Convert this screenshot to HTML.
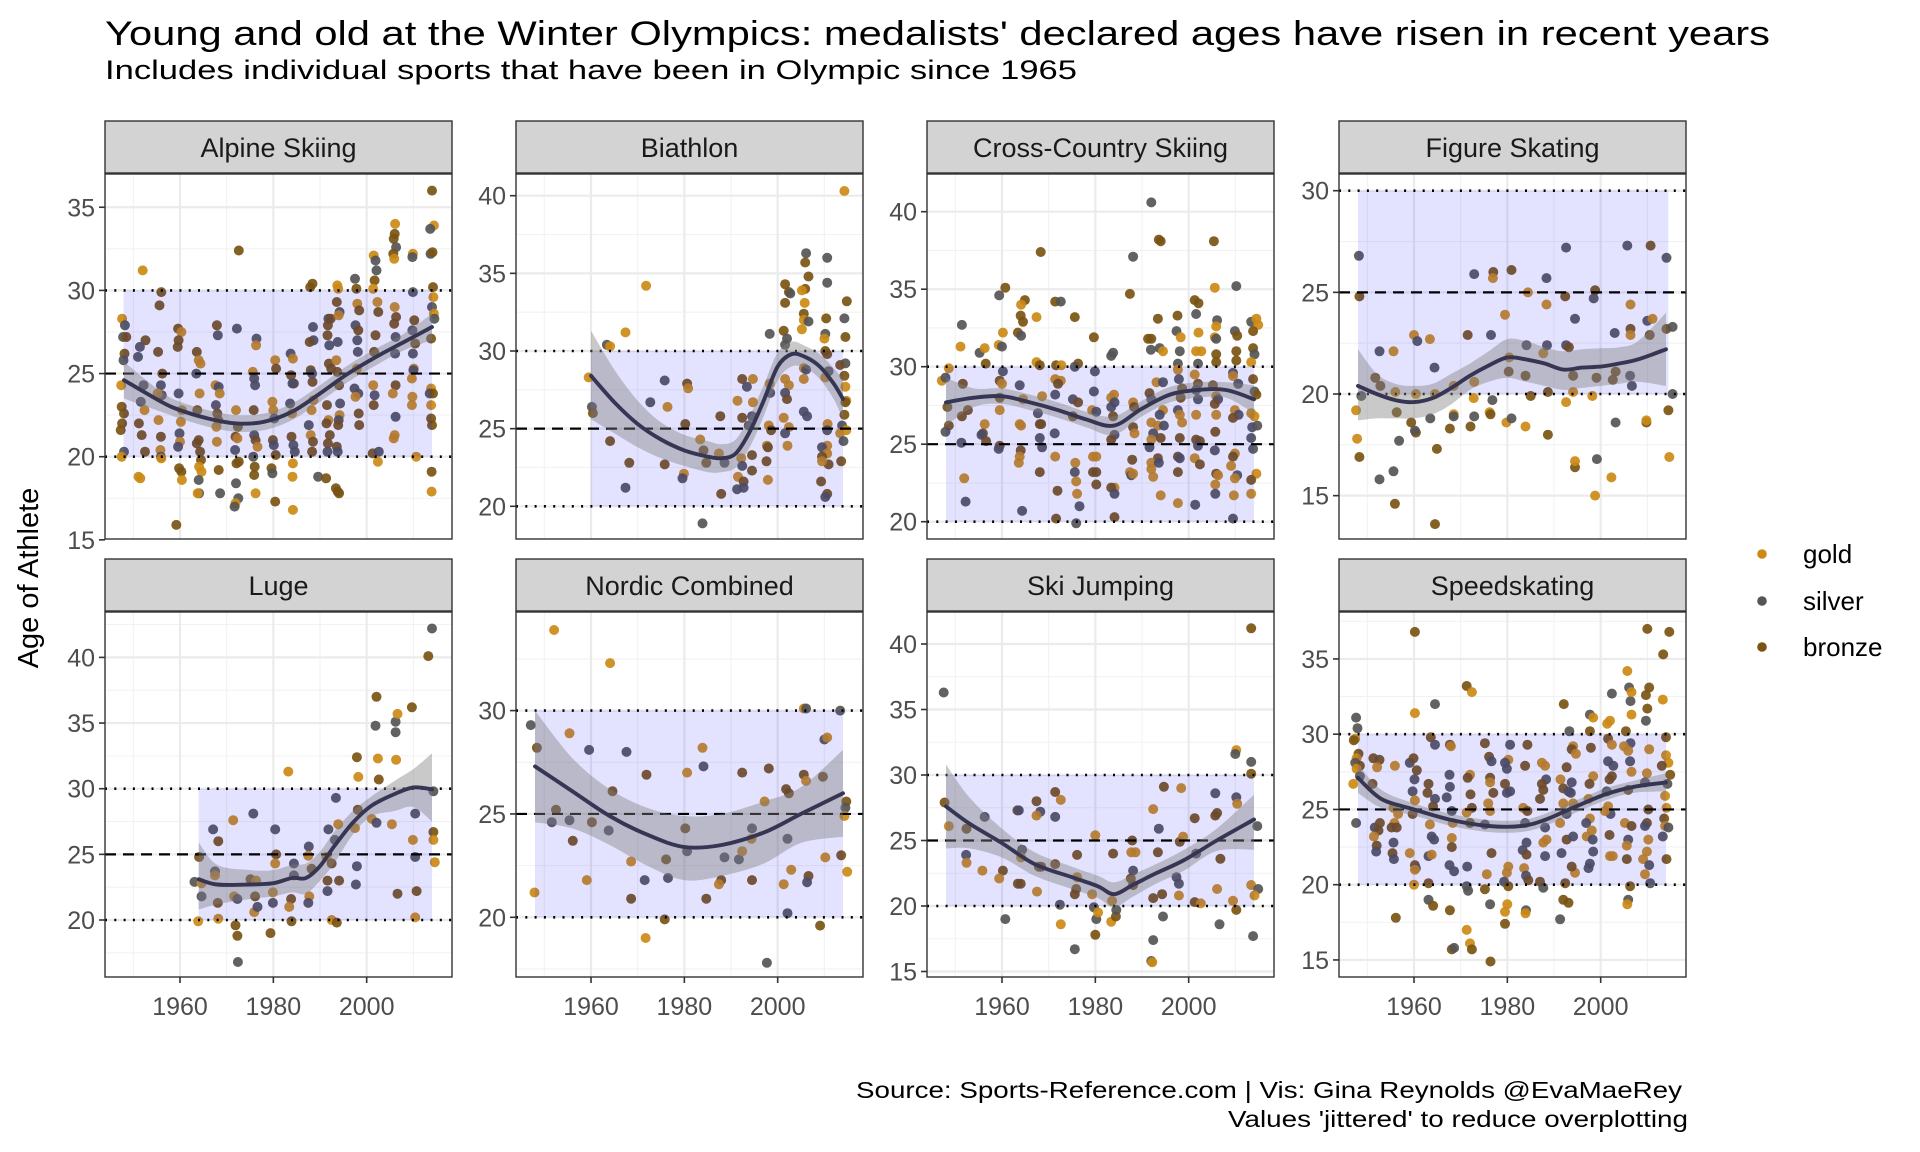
<!DOCTYPE html>
<html><head><meta charset="utf-8"><title>Winter Olympics medalist ages</title>
<style>html,body{margin:0;padding:0;background:#fff}svg{display:block;font-family:"Liberation Sans",Arial,sans-serif}</style>
</head><body>
<svg id="chart" width="1920" height="1152" viewBox="0 0 1920 1152" xmlns="http://www.w3.org/2000/svg">
<rect x="0" y="0" width="1920" height="1152" fill="#fff"/>
<text x="105" y="45" font-size="34" fill="#000" textLength="1665" lengthAdjust="spacingAndGlyphs">Young and old at the Winter Olympics: medalists' declared ages have risen in recent years</text>
<text x="105" y="79" font-size="27" fill="#000" textLength="972" lengthAdjust="spacingAndGlyphs">Includes individual sports that have been in Olympic since 1965</text>
<text transform="translate(38,578) rotate(-90)" text-anchor="middle" font-size="29" fill="#000">Age of Athlete</text>
<g id="panels"></g>
<g id="legend">
<circle cx="1762" cy="554" r="4.8" fill="#CB8A16"/>
<text x="1803" y="563" font-size="26" fill="#000">gold</text>
<circle cx="1762" cy="601" r="4.8" fill="#555555"/>
<text x="1803" y="610" font-size="26" fill="#000">silver</text>
<circle cx="1762" cy="647" r="4.8" fill="#7A5412"/>
<text x="1803" y="656" font-size="26" fill="#000">bronze</text>
</g>
<text x="1682" y="1098" font-size="23" text-anchor="end" fill="#000" textLength="826" lengthAdjust="spacingAndGlyphs">Source: Sports-Reference.com | Vis: Gina Reynolds @EvaMaeRey</text>
<text x="1688" y="1127" font-size="23" text-anchor="end" fill="#000" textLength="460" lengthAdjust="spacingAndGlyphs">Values 'jittered' to reduce overplotting</text>
</svg>
<script>
// ---------- DATA ----------
const alpineYears=[1947.6,1948.2,1947.8,1948.5,1948.1,1947.9,1947.4,1947.5,1948.0,1947.6,1947.3,1948.0,1947.5,
1952.0,1952.6,1951.4,1951.0,1952.2,1951.6,1952.4,1951.2,1951.8,1952.5,1951.1,1951.5,
1956.0,1955.6,1955.3,1956.2,1955.9,1956.1,1955.2,1955.4,1955.9,1955.8,1955.9,1956.0,
1959.6,1960.3,1959.7,1959.5,1959.7,1960.4,1960.2,1959.9,1960.0,1959.6,1959.8,1960.3,1960.4,1959.2,
1963.6,1964.0,1964.4,1963.5,1964.2,1963.7,1964.0,1963.6,1964.3,1964.5,1964.1,1964.6,1964.0,1964.1,1963.8,
1967.9,1968.1,1967.6,1968.3,1968.5,1967.7,1968.0,1968.2,1967.8,1967.9,1968.3,1968.6,
1972.6,1972.2,1972.0,1972.4,1971.9,1972.3,1971.8,1972.1,1972.6,1972.0,1972.5,1971.9,1971.7,
1976.4,1976.3,1975.6,1975.9,1976.1,1975.8,1975.9,1976.2,1976.6,1975.7,1976.0,1975.9,1976.2,
1980.4,1980.6,1979.8,1980.0,1980.2,1979.9,1980.1,1980.5,1979.6,1979.8,1980.4,
1983.7,1984.2,1983.8,1984.4,1984.1,1983.6,1984.0,1983.9,1984.3,1984.6,1984.2,1984.1,1984.2,
1987.9,1988.4,1988.5,1988.6,1987.8,1988.0,1988.3,1988.4,1988.6,1988.2,1987.6,1988.0,1988.5,1988.3,1989.6,
1991.8,1992.3,1991.7,1991.6,1992.0,1991.9,1992.4,1991.5,1991.8,1991.4,1992.1,1991.7,1991.6,1991.3,
1993.7,1993.9,1993.6,1994.2,1994.0,1993.8,1993.5,1993.7,1994.1,1994.3,1994.2,1994.0,1993.9,1993.6,1993.8,1993.4,1994.1,1993.8,
1997.5,1997.8,1998.0,1998.4,1997.6,1998.2,1998.0,1998.1,1997.9,1997.4,1998.2,1997.6,1998.3,1998.4,
2001.5,2001.9,2002.1,2001.7,2001.4,2002.3,2002.5,2001.9,2001.6,2001.4,2001.7,2001.5,2001.3,2002.6,2002.4,
2006.1,2006.0,2005.8,2006.3,2005.7,2005.9,2006.0,2006.3,2005.9,2006.2,2006.1,2006.2,2005.6,2006.2,2006.0,2005.8,
2009.9,2009.8,2009.9,2010.2,2009.8,2010.4,2009.9,2010.1,2010.0,2009.7,2009.8,2009.7,2010.6,
2014.0,2014.4,2013.6,2013.7,2014.1,2014.2,2014.3,2014.0,2014.4,2014.5,2013.8,2013.8,2013.5,2014.2,2013.8,2013.8,2014.0,2013.9,2013.9];
const alpineAges=[28.3,27.9,27.2,27.2,26.2,25.8,24.3,23.0,22.6,22.0,21.6,20.3,20.0,
31.2,27.0,26.6,26.0,24.3,23.3,22.8,22.0,21.3,20.3,18.8,18.7,
29.9,29.1,26.3,25.0,24.3,23.7,23.8,22.2,21.2,20.4,20.0,19.9,
27.7,27.5,27.0,26.6,23.8,22.8,22.1,21.4,20.9,20.6,19.3,19.1,18.6,15.9,
26.3,25.8,25.6,25.0,23.8,22.8,21.0,20.8,20.3,19.8,19.4,19.1,18.6,17.8,17.8,
27.9,27.3,24.3,24.2,23.8,23.1,22.6,22.2,21.8,20.9,19.2,17.8,
32.4,27.7,22.8,21.8,21.2,21.1,20.4,19.6,19.7,18.4,17.5,17.2,17.0,
27.1,26.7,25.1,24.7,24.3,22.8,21.3,21.0,20.6,20.0,19.4,18.9,17.8,
25.8,25.3,23.3,22.8,22.3,21.0,20.7,20.1,19.3,19.0,17.3,
26.2,25.9,24.9,24.4,24.4,23.2,22.6,21.2,20.7,20.3,19.6,18.8,16.8,
30.2,30.4,27.8,27.0,26.9,25.2,25.0,24.5,23.4,22.8,21.9,21.3,20.9,20.3,18.8,
28.3,28.3,27.9,27.3,26.7,25.6,25.3,23.1,22.2,22.0,21.3,20.8,20.3,18.7,
30.3,30.1,29.3,28.7,28.5,26.9,25.8,25.1,24.3,23.2,22.5,22.2,21.9,20.6,20.3,18.1,17.8,17.9,
30.7,30.1,29.2,28.8,27.9,27.6,27.0,26.3,25.3,24.1,23.8,23.6,22.6,21.9,
32.1,31.8,31.2,30.6,30.1,29.3,28.7,27.3,26.3,24.3,23.7,23.1,20.2,20.3,19.7,
34.0,33.4,33.1,32.6,32.2,31.9,29.0,28.4,28.0,27.2,26.2,24.3,23.8,22.4,21.3,21.1,
32.2,32.0,29.9,28.2,27.6,26.8,26.2,25.3,25.2,24.7,23.6,23.1,20.0,
36.0,33.9,33.7,32.2,32.3,30.2,29.6,29.0,28.6,28.3,27.1,24.1,23.8,23.8,23.1,22.3,21.9,19.1,17.9];
const alpineMedals=("gssbbsgbbbbsg"+"gbssssgbbbgg"+"bbbbssggbgsg"+"bgbbsggsgsbbgb"+"bggsgbbbbbggssg"+"bsgsgsbbggbs"+"bsgbbgsbbssgs"+"sggssbsbgsbbg"+"gbggsbsbbsb"+"sgbbssgbssggg"+"bbssbbsbggsgbbs"+"sbbbsbbbgbbbsb"+"ggbsgsgbbsgsbbsbbb"+"sbgbsbssgssgbb"+"gssbggbbbgsbbsg"+"gbbsbggbbssbgsgg"+"gssbsbsgsgggg"+"bgssbbgsgsbgsbgbbbg").split('');

const biathlonYears=[1959.5,1960.2,1960.4,1963.4,1964.1,1964.1,1967.4,1968.2,1967.4,1971.8,1972.7,1975.8,1976.4,1975.8,
1980.6,1980.8,1980.2,1979.9,1979.6,1983.9,1983.4,1984.1,1984.7,1987.7,1987.4,1988.6,1987.9,
1992.4,1994.7,1993.4,1991.4,1994.7,1992.4,1994.5,1993.8,1992.2,1994.5,1992.4,1994.5,1991.5,1992.7,1991.3,1992.7,
1998.3,1998.3,1998.4,1998.1,1998.6,1997.7,1997.9,1997.6,1997.9,
2001.6,2002.4,2002.7,2001.6,2001.3,2002.0,2001.6,2001.6,2002.4,2001.6,2002.0,2001.3,2002.4,2001.6,2002.1,
2006.1,2005.9,2006.6,2005.9,2005.2,2005.8,2005.6,2005.6,2006.6,2005.2,2005.6,2005.6,2006.1,2005.6,2006.3,
2010.6,2010.6,2010.4,2010.2,2010.0,2010.2,2010.6,2010.9,2010.2,2010.7,2010.6,2010.6,2009.5,2010.6,2009.5,2010.9,2009.5,2009.3,2010.6,2010.2,
2014.3,2014.8,2014.3,2014.5,2014.5,2013.4,2014.3,2014.5,2014.7,2014.5,2014.3,2013.8,2014.7,2013.4,2014.1,2013.6];
const biathlonAges=[28.3,26.4,26.0,30.4,30.3,24.2,31.2,22.8,21.2,34.2,26.7,28.1,26.4,22.7,
27.9,27.6,25.3,22.1,21.8,18.9,24.3,23.6,22.8,25.8,23.4,22.8,20.8,
28.2,28.2,27.7,26.8,26.7,25.7,25.8,25.2,23.1,23.3,22.6,22.3,21.9,21.6,21.1,21.2,
31.1,27.9,27.3,25.2,24.9,23.9,23.8,22.9,21.7,
34.3,33.8,33.7,33.1,31.3,30.8,30.4,28.2,27.8,27.3,26.9,25.7,25.1,24.7,23.9,
36.3,35.7,34.8,34.0,33.9,33.1,32.4,32.0,31.9,31.4,28.9,28.2,28.8,26.1,25.8,
36.0,34.4,32.1,31.1,30.8,30.0,29.8,28.7,28.3,25.3,24.9,23.9,23.8,23.4,23.2,22.7,22.9,21.6,20.8,20.6,
40.3,33.2,32.1,30.9,29.2,29.1,28.4,27.7,26.8,26.7,25.9,25.2,24.9,24.7,24.2,22.9];
const biathlonMedals=("gsbsgbgbsgssgb"+"bgbgssgbbbgsb"+"bgsggbssgbsbgbss"+"sgsgbgbbg"+"bbsbbssggsbggsg"+"sbbbggbgsgggsss"+"ssbsgbbsggsgsgbbgbbs"+"gbsbsbbggbbsggsb").split('');

const ccYears=[1947.1,1947.9,1948.6,1948.3,1948.6,1947.9,1951.4,1951.1,1951.6,1951.4,1952.7,1951.3,1951.9,1952.2,
1955.2,1956.3,1956.5,1956.3,1955.9,1955.6,1956.6,
1959.4,1960.7,1960.2,1959.3,1960.0,1960.2,1959.5,1960.0,1959.5,1959.5,1959.5,1959.3,
1964.9,1964.1,1964.0,1964.5,1963.4,1964.1,1963.8,1964.5,1963.8,1964.1,1964.0,1963.8,1963.6,1964.3,
1968.3,1967.4,1967.4,1968.1,1968.6,1967.7,1968.1,1968.4,1968.1,1968.6,1968.1,
1971.4,1972.6,1971.6,1972.7,1971.4,1972.6,1971.4,1972.0,1971.3,1971.4,1971.9,1971.6,
1975.6,1976.3,1975.6,1975.2,1976.3,1975.2,1975.7,1975.6,1975.9,1976.1,1976.6,1975.9,
1979.7,1979.9,1979.7,1979.3,1980.2,1979.5,1980.2,1979.5,1980.2,1980.2,
1983.8,1983.4,1984.0,1983.4,1984.1,1983.8,1983.4,1984.1,1983.4,1984.1,1983.4,1984.1,1984.1,
1988.1,1987.4,1988.1,1988.3,1988.1,1988.4,1987.9,1987.4,1987.7,1988.1,
1992.0,1993.6,1994.0,1993.4,1991.3,1992.0,1991.9,1993.8,1994.5,1993.1,1994.5,1991.6,1992.0,1994.5,1993.8,1992.0,1993.4,1994.7,1992.4,1994.0,1992.0,1991.6,1993.4,1992.0,1993.6,1992.0,1992.4,1994.0,
1997.6,1997.4,1998.3,1998.1,1997.7,1997.7,1997.9,1998.6,1998.3,1997.7,1998.1,1998.6,1998.1,1997.7,1998.1,1997.7,1997.7,
2001.3,2002.1,2001.6,2002.1,2002.7,2001.6,2002.0,2001.3,2002.0,2001.6,2002.0,2001.6,2001.6,2002.4,2002.0,2001.3,2002.4,2001.4,
2005.6,2005.4,2006.1,2005.9,2005.6,2005.9,2005.9,2005.9,2005.2,2005.9,2006.3,2005.6,2005.9,2005.7,2005.6,2005.9,2006.3,2005.7,2005.7,
2010.2,2009.9,2010.4,2010.2,2010.2,2009.5,2009.5,2010.6,2009.9,2010.7,2009.5,2009.9,2009.5,2009.1,2010.4,2009.9,2009.7,2009.5,
2013.4,2014.5,2014.9,2013.8,2013.8,2014.1,2013.4,2013.8,2014.1,2014.5,2013.4,2014.1,2013.6,2014.7,2013.4,2013.8,2014.5,2013.4,2013.4];
const ccAges=[29.1,29.3,29.9,27.4,26.2,25.8,32.7,31.3,28.9,26.8,27.2,25.1,22.8,21.3,
30.9,31.2,30.2,26.3,25.7,25.6,25.2,
34.6,35.1,32.2,31.4,31.3,29.7,29.1,28.9,28.0,27.2,24.9,24.7,
34.3,34.0,33.3,32.9,32.2,32.0,28.8,27.9,26.3,26.2,24.6,24.2,23.8,20.7,
37.4,33.2,30.3,30.1,28.1,27.0,26.3,26.3,25.4,24.8,23.2,
34.2,34.2,30.1,30.1,29.2,29.1,28.2,28.9,25.7,24.2,22.0,20.2,
33.2,30.2,30.0,27.9,27.7,26.8,23.8,23.2,22.6,21.8,21.0,19.9,
31.9,29.7,28.4,27.2,27.1,24.2,24.2,23.2,23.2,22.4,
30.9,30.7,28.2,28.0,27.7,26.8,27.4,25.6,25.3,22.2,22.2,21.8,20.3,
37.1,34.7,27.7,27.4,26.1,25.7,24.0,23.2,23.0,23.1,
40.6,38.2,38.1,33.1,31.8,31.8,31.1,31.2,31.0,29.0,29.0,28.3,27.9,27.2,26.9,26.4,26.2,26.2,25.7,25.4,25.3,24.8,24.1,23.8,23.8,23.4,22.9,21.7,
33.3,32.3,31.9,31.0,30.2,29.8,29.2,28.6,28.0,27.2,26.9,26.4,25.4,24.2,24.1,23.2,21.2,
34.3,34.1,33.4,32.2,31.0,31.0,30.2,29.5,28.9,28.5,27.9,26.9,25.3,25.2,24.9,24.1,23.7,21.1,
35.1,38.1,33.0,32.6,31.9,31.8,30.8,30.3,28.8,28.1,27.9,27.6,26.9,25.8,24.6,23.1,23.0,22.4,21.8,
35.2,32.3,32.0,31.0,30.4,29.6,29.4,28.9,27.2,26.9,26.7,24.4,24.2,23.6,23.0,22.8,21.7,20.2,
32.9,33.1,32.7,32.3,31.2,30.8,30.3,29.2,28.4,28.2,27.0,26.8,26.1,26.2,25.4,24.7,23.1,22.7,21.8];
const ccMedals=("gsgbbssgbbbsgs"+"sgbgbsb"+"sbggssbgbgbs"+"bgbbbssgggbggs"+"bggbgsbbssb"+"bsbgggsbsgbb"+"bbssbbgsggss"+"bssgsggbbb"+"ssggsbssbgbsb"+"sbgbbgbgsg"+"sbbbbbssggsbsgsggssbgsbgsggg"+"bsgssgsbbsggbbsbg"+"bbsgggsgbssgbbsgbs"+"gbsggsbbbgsbgbsbggs"+"ssbbbsgsgsbgbgsggs"+"sggbbsgbsbggssssgb").split('');

const figureYears=[1948.2,1948.3,1948.7,1947.6,1947.8,1948.3,
1952.6,1955.6,1951.7,1952.8,1956.0,1956.3,1952.6,1955.6,1955.9,1956.8,
1960.0,1960.7,1963.4,1964.4,1960.4,1964.5,1959.4,1960.4,1960.2,1963.5,1964.9,1964.5,
1972.9,1971.5,1968.5,1972.9,1972.8,1968.5,1968.5,1967.7,1972.9,1972.1,
1977.0,1976.9,1976.5,1979.5,1980.4,1980.3,1976.8,1976.2,1976.4,1979.8,1980.9,1980.9,
1984.4,1988.4,1988.4,1984.1,1987.7,1988.5,1983.9,1988.7,1985.0,1983.9,1988.7,
1992.4,1992.6,1994.5,1992.6,1993.2,1994.1,1994.1,1992.6,1994.5,1994.5,
1998.5,1998.8,1998.2,1999.1,1999.2,1998.8,2002.3,
2003.0,2006.4,2006.4,2006.4,2003.2,2002.6,2006.3,2006.7,2003.2,
2005.7,2010.7,2010.0,2011.1,2010.5,2009.8,2009.8,
2014.1,2014.1,2015.4,2015.4,2014.5,2014.7];
const figureAges=[26.8,24.8,19.9,19.2,17.8,16.9,
22.1,22.1,20.8,20.4,20.1,19.1,15.8,16.2,14.6,17.7,
22.9,22.6,22.7,21.3,20.0,20.0,18.6,18.1,18.2,18.8,17.3,13.6,
25.9,22.9,20.4,20.6,19.8,19.0,18.9,18.3,18.9,18.4,
26.0,25.7,22.9,23.9,21.8,21.1,19.7,19.1,19.0,18.6,18.8,26.1,
25.0,25.7,24.4,22.4,22.0,22.4,20.9,20.1,19.9,18.4,18.0,
24.8,27.2,23.7,22.4,22.3,20.9,20.1,19.6,16.4,16.7,
24.7,25.1,19.9,20.8,16.8,15.0,15.9,
23.0,24.4,23.2,22.9,21.1,20.7,20.9,20.4,18.6,
27.3,27.3,23.6,23.7,22.9,18.6,18.7,
26.7,23.2,23.3,20.0,19.2,16.9];
const figureMedals=("sbsggb"+"sgbbgbssbs"+"gsgsggbbssbb"+"sbggggsbsb"+"bgsggbsgbgsb"+"gsgsgsbbbgb"+"bsssbbggbg"+"sbgbsgg"+"sgbgbbssss"+"bsgbbgs"+"bssbgg").split('');

const lugeYears=[1963.1,1963.9,1964.1,1964.6,1964.6,1967.1,1968.2,1967.5,1967.5,1968.1,1968.2,
1971.4,1971.6,1972.3,1971.9,1972.3,1972.4,1975.7,1975.1,1976.3,1976.1,1975.9,1976.6,
1980.4,1980.6,1980.4,1979.9,1979.9,1979.4,1983.2,1984.4,1984.4,1983.8,1983.4,1983.9,
1987.6,1987.5,1988.2,1987.7,1987.5,
1993.4,1993.9,1991.8,1993.2,1991.4,1992.5,1991.6,1994.1,1991.6,1992.5,1993.6,
1997.9,1998.2,1998.1,1997.5,1997.9,1997.7,2002.1,2001.9,2002.4,2002.6,2001.1,2002.1,
2006.2,2006.2,2006.6,2006.3,2005.4,2006.6,2009.7,2010.4,2009.9,2010.4,2010.7,2010.4,
2014.0,2013.2,2014.3,2014.3,2014.3,2014.6];
const lugeAges=[22.9,19.9,24.8,21.8,22.8,26.9,26.0,23.7,23.4,21.3,20.1,
27.6,21.8,21.6,19.6,18.8,16.8,28.1,23.1,23.0,21.8,20.6,21.0,
26.9,25.0,24.3,22.1,21.3,19.0,31.3,24.3,23.4,21.6,21.0,19.9,
25.6,24.9,23.9,21.8,21.3,
29.3,27.3,26.9,26.1,24.8,24.3,23.0,23.0,22.2,20.0,19.8,
32.4,30.9,28.4,27.0,24.1,22.7,37.0,34.8,32.3,30.7,27.7,27.4,
35.1,34.3,35.7,32.2,27.3,22.0,36.2,28.1,26.1,24.8,22.2,20.2,
42.2,40.1,29.8,26.7,26.1,24.4];
const lugeMedals=("sgbsgsbsgbg"+"ggsbbssbgbgs"+"sbggsbgssbgb"+"sgbgs"+"sgssgbbbsgb"+"bgbgssbsgbgs"+"ssgggbbsgsbg"+"sbsbgg").split('');

const nordicYears=[1947.1,1948.4,1947.9,1952.1,1952.5,1951.6,1955.4,1955.4,1956.1,1959.1,1959.6,1960.2,
1964.1,1964.6,1963.8,1967.6,1968.6,1968.6,1971.9,1971.5,1971.7,1976.1,1976.5,1975.8,
1980.6,1980.2,1980.6,1983.9,1984.1,1984.7,1987.9,1987.4,1988.6,1992.4,1991.7,1992.4,1994.5,1994.4,1994.5,
1998.1,1997.2,1997.7,2001.8,2002.4,2002.1,2002.9,2001.3,2002.1,
2005.6,2006.1,2005.6,2006.1,2006.6,2006.3,2009.7,2010.0,2010.6,2010.2,2009.1,
2013.4,2014.7,2014.5,2014.3,2013.6,2014.9];
const nordicAges=[29.3,28.2,21.2,33.9,25.2,24.6,28.9,24.7,23.7,21.8,28.1,24.6,
32.3,26.1,24.2,28.0,22.7,20.9,26.9,21.8,19.0,22.8,21.9,19.9,
27.0,24.3,23.2,28.2,27.3,20.9,21.8,21.6,22.9,27.0,22.8,23.2,24.3,23.8,21.8,
27.2,25.6,17.8,26.2,26.0,23.8,22.3,21.6,20.2,
30.1,30.1,26.9,26.6,22.0,21.7,26.8,28.6,28.7,22.9,19.6,
30.0,25.6,25.3,24.9,23.0,22.2];
const nordicMedals=("sbggbsgsbgsb"+"gbssgbbsgbsb"+"gbsgsbbgsbsgsgb"+"bgsbbsggs"+"gsbgbsbsggb"+"sbsgbg").split('');

const skiYears=[1947.5,1947.7,1948.6,1952.4,1952.3,1952.4,1956.3,1955.8,1960.2,1959.4,1960.7,
1963.3,1963.6,1967.4,1968.2,1967.4,1964.3,1964.1,1963.4,1964.0,1967.5,1967.9,1968.4,
1971.4,1972.6,1971.4,1971.4,1972.4,1972.6,1976.1,1976.1,1975.6,1975.6,1975.9,
1980.0,1979.3,1979.7,1980.2,1980.0,1980.6,1983.8,1983.6,1983.4,1984.4,1984.5,
1987.9,1987.7,1988.6,1988.1,1987.6,1988.1,1992.4,1993.6,1993.4,1992.4,1994.3,1994.5,1992.4,1992.0,1992.2,
1994.7,1998.4,1998.1,1998.8,1997.4,1997.9,1997.9,2001.3,2001.6,2001.3,2002.6,2006.8,2005.7,2005.7,2006.1,2006.1,2006.6,
2010.2,2010.0,2010.2,2010.4,2009.5,2010.2,2013.4,2013.4,2013.4,2014.7,2013.4,2014.9,2014.1,2013.8];
const skiAges=[36.3,27.9,26.1,25.9,23.9,23.3,26.8,22.7,22.7,22.1,19.0,
27.3,27.3,28.0,27.2,26.9,24.3,23.7,21.7,21.7,21.1,23.0,23.0,
28.7,28.1,26.8,23.2,20.1,18.6,23.9,22.2,20.9,16.7,21.3,
25.4,20.9,19.9,19.0,17.8,19.5,24.0,20.4,18.8,19.2,19.7,
25.0,24.1,24.1,22.7,22.1,21.6,27.4,25.9,24.1,20.6,20.9,19.2,17.4,15.8,15.7,
29.1,29.0,24.9,25.3,22.2,21.7,20.8,26.7,24.0,20.3,20.2,23.6,28.6,26.9,27.1,21.3,18.6,
31.9,31.6,28.3,27.8,20.4,19.7,41.2,31.0,30.1,26.1,21.6,21.3,20.8,17.7];
const skiMedals=("sbgbsgsgbgs"+"bsbsgsgbbgbb"+"bgsbsgbgbsb"+"ggssbgbggbs"+"bggsbbgsbbbsssgb"+"gbgssgbsbgbsbbgsg"+"ssggbbsbsgsgsbb").split('');

const speedYears=[1947.6,1947.9,1947.4,1947.1,1948.1,1947.7,1947.4,1948.4,1947.7,1948.4,1947.0,1947.6,
1951.3,1952.6,1952.1,1951.6,1952.4,1951.4,1952.0,1951.9,1951.1,1952.7,
1955.9,1955.6,1956.6,1955.8,1955.2,1956.3,1955.6,1955.4,1955.7,1956.1,
1960.2,1960.2,1959.1,1959.9,1960.6,1960.1,1959.7,1960.2,1959.7,1959.1,1960.2,1960.4,1960.0,1960.2,
1964.5,1963.6,1964.5,1963.1,1962.9,1964.5,1964.1,1963.4,1963.8,1964.3,1963.1,1963.8,1963.1,1963.1,1964.1,
1967.7,1967.9,1967.6,1967.7,1967.0,1968.1,1968.3,1968.1,1968.1,1967.6,1968.6,1967.7,1968.1,1968.6,
1971.3,1972.4,1972.0,1971.5,1972.1,1972.4,1971.3,1972.0,1971.4,1971.3,1971.6,1971.3,1972.0,1972.4,
1975.2,1976.1,1976.6,1976.3,1976.3,1977.0,1975.9,1976.3,1975.2,1976.6,1975.6,1975.2,1976.3,1976.4,
1980.6,1980.2,1979.5,1979.9,1980.6,1979.5,1979.9,1980.2,1979.9,1979.3,1980.2,1980.0,1979.5,1979.5,
1983.8,1984.3,1983.4,1984.3,1983.8,1984.1,1983.3,1984.1,1983.6,1984.0,1984.5,1984.0,1983.9,
1987.4,1988.1,1988.3,1987.4,1987.7,1987.0,1988.1,1988.4,1987.7,1988.1,1987.0,1987.7,
1992.1,1993.3,1992.7,1991.4,1992.0,1993.1,1992.0,1992.7,1991.3,1991.6,1992.7,1992.4,1992.0,1993.1,1991.3,
1994.1,1993.8,1994.7,1993.8,1993.6,1994.1,1994.1,1994.5,1993.8,
1997.7,1998.4,1997.7,1997.9,1998.4,1997.6,1997.4,1997.7,1996.9,1998.1,1997.0,1998.3,1998.4,1997.4,1997.7,
2002.4,2001.4,2002.0,2001.6,2002.4,2001.6,2002.7,2002.4,2001.9,2001.3,2001.6,2002.1,2000.9,2001.9,2002.0,2002.6,
2005.7,2006.1,2006.4,2006.6,2006.6,2005.4,2006.4,2005.0,2005.9,2006.3,2006.6,2005.9,2005.2,2006.6,2005.9,2005.6,2005.6,2006.3,2005.9,2005.7,
2010.0,2010.4,2009.7,2010.0,2009.7,2010.4,2009.9,2009.5,2010.2,2009.9,2009.5,2010.2,2009.9,2009.1,2010.4,2009.5,2010.6,
2014.7,2013.4,2013.3,2014.0,2014.0,2014.5,2013.1,2014.9,2014.3,2013.8,2014.1,2013.6,2013.8,2014.5,2013.3,2014.1];
const speedAges=[31.1,30.4,29.7,29.6,28.7,28.4,28.1,27.9,27.7,27.2,26.7,24.1,
28.4,28.3,27.8,23.8,23.6,23.2,22.6,22.2,26.7,24.1,
27.9,25.1,24.7,24.1,23.8,23.8,22.8,22.1,21.7,17.8,
36.8,31.4,28.1,28.4,27.6,27.0,26.2,25.6,24.7,22.1,21.3,21.1,20.0,21.0,
32.0,29.8,29.3,26.7,26.1,25.7,25.2,24.0,23.2,23.0,21.9,22.0,20.1,19.0,18.6,
29.3,29.2,27.3,26.5,25.8,24.9,24.1,23.1,22.5,21.3,20.9,18.3,15.7,15.8,
33.2,32.8,27.3,27.1,26.0,25.1,24.8,24.1,21.2,19.9,19.6,17.0,16.1,15.7,
29.4,28.5,28.2,27.1,26.8,26.1,25.4,24.9,24.0,22.1,20.7,19.7,18.7,14.9,
29.3,28.3,28.1,27.7,26.2,26.7,26.1,21.2,20.8,20.2,19.9,18.7,18.2,17.4,
27.9,29.3,25.1,24.9,24.1,22.8,22.3,22.0,21.1,20.6,20.3,18.3,18.1,
28.1,27.9,27.0,26.7,26.3,25.7,23.8,23.0,22.8,21.9,20.2,19.8,
32.0,30.2,27.8,27.0,26.4,26.2,25.4,24.7,24.1,22.1,23.0,20.1,19.0,18.8,17.7,
29.2,29.0,28.7,26.8,26.1,25.4,23.2,20.8,21.2,
31.3,31.1,30.2,29.1,27.2,26.7,25.7,24.4,24.1,23.6,23.2,23.0,22.2,21.1,21.4,
32.7,30.7,30.9,29.7,29.3,28.2,27.9,27.2,27.0,26.2,25.2,24.7,24.9,23.3,21.9,21.9,
34.2,33.1,32.2,32.8,31.3,30.2,29.4,29.2,28.9,28.2,27.5,26.3,24.1,23.9,23.0,22.6,21.7,19.9,19.0,18.7,
37.0,33.1,32.6,31.7,30.9,29.0,27.4,26.8,25.0,24.1,23.9,23.0,22.2,21.7,21.3,20.7,20.1,
36.8,35.3,32.3,29.8,28.6,28.1,27.9,27.3,26.7,25.9,25.1,24.4,23.9,23.8,23.2,21.7];
const speedMedals=("ssgbbgsbgsgs"+"bbgsbgbsbb"+"ggggbbsbsb"+"bgsbbssgbgbsgg"+"sbsbbsbgsssgbsb"+"bgssssggbssbbs"+"bggbbbgbsssggb"+"bbsbgbggsbgbsb"+"sgsssbsggsbggb"+"bbgbsssbgsbsg"+"ggsbbbsggsbs"+"bsbgbsgsgsbbbbs"+"gbgssgsgb"+"sgbbgbggsggssss"+"sggbgssbbsgsgbgg"+"gssggbsggsgbgbsgbbsg"+"bbbbsggsbbsgggsgs"+"bbgbggbbsggbgssb").split('');

// smoothed trend (fit with confidence band) per sport
const alpineTrendYears=[1948,1956,1960,1966,1972,1978,1984,1990,1996,2002,2008,2014];
const alpineFit=[24.6,23.3,22.8,22.3,22.0,22.1,22.7,23.8,25.0,26.0,26.9,27.8];
const alpineHi=[25.7,23.9,23.3,22.8,22.5,22.6,23.2,24.3,25.5,26.5,27.4,28.6];
const alpineLo=[23.5,22.7,22.3,21.8,21.5,21.6,22.2,23.3,24.5,25.5,26.4,27.0];
const biathlonTrendYears=[1960,1965,1970,1975,1980,1985,1988,1991,1994,1997,2000,2003,2006,2009,2012,2014];
const biathlonFit=[28.4,26.7,25.3,24.3,23.6,23.2,23.1,23.4,24.8,26.8,29.0,29.8,29.6,29.0,27.9,26.9];
const biathlonHi=[31.3,28.8,26.8,25.4,24.6,24.2,24.0,24.3,25.8,27.8,29.9,30.6,30.3,29.8,28.9,28.2];
const biathlonLo=[25.6,24.7,23.8,23.1,22.6,22.2,22.2,22.5,23.8,25.8,28.1,29.0,28.9,28.2,26.9,25.6];
const ccTrendYears=[1948,1954,1960,1966,1972,1978,1984,1990,1996,2002,2008,2014];
const ccFit=[27.7,28.0,28.1,27.7,27.2,26.6,26.2,27.3,28.2,28.5,28.5,27.9];
const ccHi=[29.3,28.6,28.6,28.2,27.7,27.1,26.8,27.8,28.7,29.0,29.0,28.8];
const ccLo=[26.2,27.4,27.6,27.2,26.7,26.1,25.6,26.8,27.7,28.0,28.0,27.0];
const figureTrendYears=[1948,1952,1956,1960,1964,1968,1972,1976,1980,1984,1988,1992,1996,2000,2004,2008,2014];
const figureFit=[20.4,20.0,19.7,19.6,19.8,20.3,20.9,21.4,21.8,21.7,21.5,21.2,21.3,21.35,21.5,21.7,22.2];
const figureHi=[22.2,21.0,20.5,20.4,20.5,21.0,21.5,22.1,22.7,22.6,22.3,22.1,22.2,22.25,22.3,22.6,24.0];
const figureLo=[18.7,18.8,18.8,18.8,19.0,19.5,20.2,20.6,20.8,20.6,20.4,20.2,20.3,20.4,20.5,20.6,20.4];
const lugeTrendYears=[1964,1968,1975,1980,1984,1987,1990,1993,1997,2001,2006,2010,2014];
const lugeFit=[23.1,22.7,22.7,22.8,23.2,23.2,24.1,25.6,27.4,28.7,29.6,30.1,29.95];
const lugeHi=[25.9,24.2,23.8,23.8,24.2,24.3,25.2,26.7,28.3,29.4,30.6,31.5,32.7];
const lugeLo=[20.8,21.2,21.6,21.8,22.1,22.0,23.0,24.3,26.5,27.9,28.3,28.6,27.5];
const nordicTrendYears=[1948,1956,1964,1972,1980,1988,1997,2005,2014];
const nordicFit=[27.3,26.1,24.9,24.0,23.4,23.5,24.1,25.0,26.0];
const nordicHi=[30.0,27.7,26.2,25.3,24.9,25.0,25.6,26.3,28.1];
const nordicLo=[24.6,24.3,23.5,22.5,21.8,22.0,22.6,23.6,23.9];
const skiTrendYears=[1948,1953,1960,1967,1975,1980.6,1984,1988,1993,1999,2006,2014];
const skiFit=[27.6,26.3,24.8,23.2,22.2,21.5,20.9,21.6,22.5,23.5,25.0,26.6];
const skiHi=[30.8,28.3,25.9,24.1,23.0,22.3,21.8,22.4,23.2,24.3,25.9,28.5];
const skiLo=[24.4,24.4,23.7,22.3,21.3,20.6,19.9,20.7,21.7,22.7,24.2,24.3];
const speedTrendYears=[1948,1953,1960,1968,1976,1983,1988,1994,2001,2007,2014];
const speedFit=[27.1,25.7,25.0,24.3,23.9,23.9,24.3,25.1,26.0,26.5,26.8];
const speedHi=[28.0,26.3,25.4,24.7,24.3,24.3,24.7,25.5,26.4,26.9,27.4];
const speedLo=[26.1,25.1,24.6,23.9,23.5,23.5,23.9,24.7,25.6,26.1,26.2];

const xTickLabels=[1960,1980,2000];
const xMinorYears=[1950,1970,1990,2010];

// ---------- LAYOUT ----------
const NS='http://www.w3.org/2000/svg';
const COL_LEFT=[105,516,927,1339], PW=347;
const ROW_TOP=[174,612], ROW_BOT=[539,977], STRIP_TOP=[121,559];
const COLORS={g:'#CB8A16',s:'#555555',b:'#7A5412'};
const MEDAL_NAMES={g:'gold',s:'silver',b:'bronze'};
const panels=[
 {key:'alpine',title:'Alpine Skiing',col:0,row:0,y20:456.7,ppu:16.63,ticks:[15,20,25,30,35],span:[1947.9,2014],years:alpineYears,ages:alpineAges,medals:alpineMedals,ty:alpineTrendYears,fit:alpineFit,hi:alpineHi,lo:alpineLo},
 {key:'biathlon',title:'Biathlon',col:1,row:0,y20:506.3,ppu:15.53,ticks:[20,25,30,35,40],span:[1960,2014],years:biathlonYears,ages:biathlonAges,medals:biathlonMedals,ty:biathlonTrendYears,fit:biathlonFit,hi:biathlonHi,lo:biathlonLo},
 {key:'cross-country',title:'Cross-Country Skiing',col:2,row:0,y20:521.7,ppu:15.5,ticks:[20,25,30,35,40],span:[1948,2014],years:ccYears,ages:ccAges,medals:ccMedals,ty:ccTrendYears,fit:ccFit,hi:ccHi,lo:ccLo},
 {key:'figure-skating',title:'Figure Skating',col:3,row:0,y20:394,ppu:20.33,ticks:[15,20,25,30],span:[1948,2014.5],years:figureYears,ages:figureAges,medals:figureMedals,ty:figureTrendYears,fit:figureFit,hi:figureHi,lo:figureLo},
 {key:'luge',title:'Luge',col:0,row:1,y20:920,ppu:13.13,ticks:[20,25,30,35,40],span:[1964,2014],years:lugeYears,ages:lugeAges,medals:lugeMedals,ty:lugeTrendYears,fit:lugeFit,hi:lugeHi,lo:lugeLo},
 {key:'nordic-combined',title:'Nordic Combined',col:1,row:1,y20:917.3,ppu:20.67,ticks:[20,25,30],span:[1948,2014],years:nordicYears,ages:nordicAges,medals:nordicMedals,ty:nordicTrendYears,fit:nordicFit,hi:nordicHi,lo:nordicLo},
 {key:'ski-jumping',title:'Ski Jumping',col:2,row:1,y20:906,ppu:13.1,ticks:[15,20,25,30,35,40],span:[1948,2014],years:skiYears,ages:skiAges,medals:skiMedals,ty:skiTrendYears,fit:skiFit,hi:skiHi,lo:skiLo},
 {key:'speedskating',title:'Speedskating',col:3,row:1,y20:884.7,ppu:15.05,ticks:[15,20,25,30,35],span:[1948,2014],years:speedYears,ages:speedAges,medals:speedMedals,ty:speedTrendYears,fit:speedFit,hi:speedHi,lo:speedLo}
];

function mk(tag,attrs,parent){const e=document.createElementNS(NS,tag);for(const k in attrs)e.setAttribute(k,attrs[k]);if(parent)parent.appendChild(e);return e;}
function smoothPath(pts){
  let d='M'+pts[0][0].toFixed(1)+','+pts[0][1].toFixed(1);
  for(let i=0;i<pts.length-1;i++){
    const p0=pts[i-1]||pts[i],p1=pts[i],p2=pts[i+1],p3=pts[i+2]||p2;
    const c1=[p1[0]+(p2[0]-p0[0])/6,p1[1]+(p2[1]-p0[1])/6];
    const c2=[p2[0]-(p3[0]-p1[0])/6,p2[1]-(p3[1]-p1[1])/6];
    d+=' C'+c1[0].toFixed(1)+','+c1[1].toFixed(1)+' '+c2[0].toFixed(1)+','+c2[1].toFixed(1)+' '+p2[0].toFixed(1)+','+p2[1].toFixed(1);
  }
  return d;
}
function smoothCont(pts){return smoothPath(pts).replace(/^M/,'L');}

const root=document.getElementById('panels');
panels.forEach(p=>{
  const L=COL_LEFT[p.col], R=L+PW, T=ROW_TOP[p.row], B=ROW_BOT[p.row];
  const xs=yr=>L+75+(yr-1960)*4.667;
  const ys=v=>p.y20-(v-20)*p.ppu;
  const g=mk('g',{},root);
  
  
  const clipId='clip-'+p.key;
  const cp=mk('clipPath',{id:clipId},g);
  mk('rect',{x:L,y:T,width:PW,height:B-T},cp);
  const bg=mk('rect',{x:L,y:T,width:PW,height:B-T,fill:'#fff'},g);
  
  
  const grid=mk('g',{'clip-path':'url(#'+clipId+')'},g);
  
  
  const vTop=20+(p.y20-T)/p.ppu, vBot=20-(B-p.y20)/p.ppu;
  const step=p.ticks[1]-p.ticks[0];
  for(let v=p.ticks[0]-step/2;v<=vTop;v+=step){ if(v<vBot)continue;
    const y=ys(v);
    const ln=mk('line',{x1:L,x2:R,y1:y,y2:y,stroke:'#F2F2F2','stroke-width':1.1},grid);
    
    
  }
  xMinorYears.forEach(yr=>{const x=xs(yr);const ln=mk('line',{x1:x,x2:x,y1:T,y2:B,stroke:'#F2F2F2','stroke-width':1.1},grid);
    
    });
  p.ticks.forEach(v=>{const y=ys(v);const ln=mk('line',{x1:L,x2:R,y1:y,y2:y,stroke:'#EBEBEB','stroke-width':2.2},grid);
    
    });
  xTickLabels.forEach(yr=>{const x=xs(yr);const ln=mk('line',{x1:x,x2:x,y1:T,y2:B,stroke:'#EBEBEB','stroke-width':2.2},grid);
    
    });
  const pg=mk('g',{'clip-path':'url(#'+clipId+')'},g);
  
  
  p.years.forEach((yr,i)=>{
    const m=p.medals[i]||'g';
    const c=mk('circle',{cx:xs(yr).toFixed(1),cy:ys(p.ages[i]).toFixed(1),r:5,fill:COLORS[m],'fill-opacity':0.92},pg);
    
    
  });
  const band=mk('rect',{x:xs(p.span[0]),y:ys(30),width:xs(p.span[1])-xs(p.span[0]),height:ys(20)-ys(30),fill:'#0000FF','fill-opacity':0.11},g);
  
  
  [[20,'2 7.3'],[30,'2 7.3'],[25,'11 7']].forEach(([v,dash])=>{
    const y=ys(v);
    const ln=mk('line',{x1:L,x2:R,y1:y,y2:y,stroke:'#000','stroke-width':v===25?2.2:2.6,'stroke-dasharray':dash},g);
    
    
  });
  const up=p.ty.map((yr,i)=>[xs(yr),ys(p.hi[i])]);
  const dn=p.ty.map((yr,i)=>[xs(yr),ys(p.lo[i])]).reverse();
  const rib=mk('path',{d:smoothPath(up)+' '+smoothCont(dn)+' Z',fill:'#7f7f7f','fill-opacity':0.42},g);
  
  
  const fitPts=p.ty.map((yr,i)=>[xs(yr),ys(p.fit[i])]);
  const fl=mk('path',{d:smoothPath(fitPts),fill:'none',stroke:'#363654','stroke-width':3.9,'stroke-linecap':'round'},g);
  
  
  const br=mk('rect',{x:L,y:T,width:PW,height:B-T,fill:'none',stroke:'#333','stroke-width':1.4},g);
  
  
  const st=mk('rect',{x:L,y:STRIP_TOP[p.row],width:PW,height:T-STRIP_TOP[p.row]-1,fill:'#D3D3D3',stroke:'#333','stroke-width':1.4},g);
  
  
  const stt=mk('text',{x:L+PW/2,y:STRIP_TOP[p.row]+36,'text-anchor':'middle','font-size':27,fill:'#1A1A1A'},g);
  stt.textContent=p.title;
  
  
  p.ticks.forEach(v=>{
    const y=ys(v);
    const tk=mk('line',{x1:L-6,x2:L,y1:y,y2:y,stroke:'#333','stroke-width':1.6},g);
    
    
    const tl=mk('text',{x:L-10,y:y+9,'text-anchor':'end','font-size':25,fill:'#4D4D4D'},g);
    tl.textContent=v;
    
    
  });
  if(p.row===1){
    xTickLabels.forEach(yr=>{
      const x=xs(yr);
      const tk=mk('line',{x1:x,x2:x,y1:B,y2:B+6,stroke:'#333','stroke-width':1.6},g);
      
      
      const tl=mk('text',{x:x,y:B+38,'text-anchor':'middle','font-size':25,fill:'#4D4D4D'},g);
      tl.textContent=yr;
      
      
    });
  }
});
</script>
</body></html>
